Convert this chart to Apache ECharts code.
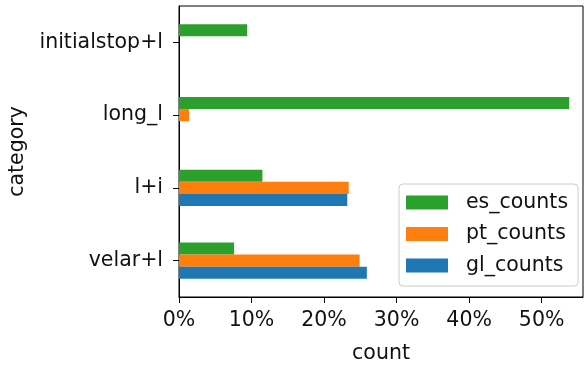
<!DOCTYPE html>
<html>
<head>
<meta charset="utf-8">
<script src="https://cdn.jsdelivr.net/npm/echarts@6/dist/echarts.min.js"></script>
<style>
  html, body { margin: 0; padding: 0; background: #fff; }
  #chart { width: 586px; height: 365px; }
</style>
</head>
<body>
<div id="chart"></div>
<script>
// Share (%) of each phonological category per corpus
const categories = ['velar+l', 'l+i', 'long_l', 'initialstop+l'];
const glCounts = [25.9, 23.2, 0, 0];
const ptCounts = [24.9, 23.4, 1.4, 0];
const esCounts = [7.6, 11.5, 53.8, 9.4];
const xTicks = [0, 10, 20, 30, 40, 50];

const FONT = 'DejaVu Sans';
const TEXT = '#111';
const FS = 20.5;

const chart = echarts.init(document.getElementById('chart'), null, { renderer: 'canvas' });

chart.setOption({
  animation: false,
  backgroundColor: '#fff',
  textStyle: { fontFamily: FONT },
  grid: {
    left: 179, right: 3, top: 6, bottom: 68,
    outerBoundsMode: 'none',
    containLabel: false,
    show: true, borderColor: '#000', borderWidth: 1, backgroundColor: 'transparent'
  },
  legend: {
    orient: 'vertical',
    left: 399, top: 184,
    data: ['es_counts', 'pt_counts', 'gl_counts'],
    itemWidth: 42, itemHeight: 14, itemGap: 10.5,
    padding: [8, 10, 10, 7],
    borderColor: '#cccccc', borderWidth: 1, borderRadius: 4,
    backgroundColor: 'rgba(255,255,255,0.8)',
    icon: 'rect',
    textStyle: { fontFamily: FONT, fontSize: FS, color: TEXT, padding: [0, 0, 0, 13] }
  },
  xAxis: {
    type: 'value',
    min: 0, max: 55.7, interval: 10,
    name: 'count', nameLocation: 'middle', nameGap: 46,
    nameTextStyle: { fontFamily: FONT, fontSize: FS, color: TEXT },
    axisLine: { show: true, lineStyle: { color: '#000', width: 1 } },
    axisTick: { show: true, length: 6, customValues: xTicks, lineStyle: { color: '#000', width: 1 } },
    axisLabel: {
      fontFamily: FONT, fontSize: FS, color: TEXT, margin: 13,
      customValues: xTicks,
      formatter: v => v + '%'
    },
    splitLine: { show: false }
  },
  yAxis: {
    type: 'category',
    data: categories,
    name: 'category', nameLocation: 'middle', nameGap: 150, nameRotate: 90,
    nameTextStyle: { fontFamily: FONT, fontSize: FS, color: TEXT },
    axisLine: { show: true, lineStyle: { color: '#000', width: 1 } },
    axisTick: { show: true, alignWithLabel: true, length: 6, lineStyle: { color: '#000', width: 1 } },
    axisLabel: { fontFamily: FONT, fontSize: FS, color: TEXT, margin: 16 },
    splitLine: { show: false }
  },
  // In a horizontal group the first series sits on top
  series: [
    { name: 'es_counts', type: 'bar', data: esCounts, itemStyle: { color: '#2ca02c' }, barGap: '0%', barCategoryGap: '50%' },
    { name: 'pt_counts', type: 'bar', data: ptCounts, itemStyle: { color: '#ff7f0e' }, barGap: '0%', barCategoryGap: '50%' },
    { name: 'gl_counts', type: 'bar', data: glCounts, itemStyle: { color: '#1f77b4' }, barGap: '0%', barCategoryGap: '50%' }
  ]
});
</script>
</body>
</html>
